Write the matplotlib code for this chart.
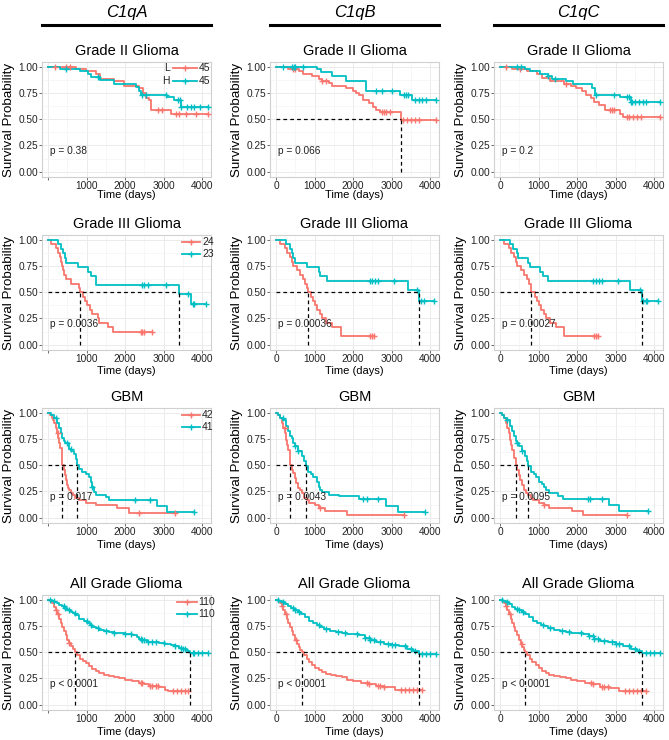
import numpy as np
import matplotlib
matplotlib.use("Agg")
import matplotlib.pyplot as plt
from matplotlib.lines import Line2D

plt.rcParams['font.family'] = ['Liberation Sans', 'DejaVu Sans']

RED = "#F8766D"
TEAL = "#00BFC4"

genes = ["C1qA", "C1qB", "C1qC"]
groups = ["Grade II Glioma", "Grade III Glioma", "GBM", "All Grade Glioma"]
group_n = [("45", "45"), ("24", "23"), ("42", "41"), ("110", "110")]
p_text = [
    ["p = 0.38", "p = 0.066", "p = 0.2"],
    ["p = 0.0036", "p = 0.00036", "p = 0.00027"],
    ["p = 0.017", "p = 0.0043", "p = 0.0095"],
    ["p < 0.0001", "p < 0.0001", "p < 0.0001"],
]

# ---- Grade II ----
g2a_low_t = [730, 990, 1250, 1340, 1720, 1980, 2370, 2460, 2540, 2630, 2670, 3190]
g2a_low_s = [0.977, 0.955, 0.932, 0.886, 0.864, 0.818, 0.795, 0.75, 0.705, 0.682, 0.59, 0.55]
g2a_low_c = [170, 470, 560, 2850, 2950, 3320, 3400, 3580, 3840, 4140]
g2a_high_t = [300, 820, 1030, 1120, 1340, 1720, 2280, 2370, 2410, 3100, 3280, 3450]
g2a_high_s = [0.977, 0.955, 0.932, 0.9, 0.875, 0.84, 0.81, 0.77, 0.735, 0.71, 0.685, 0.62]
g2a_high_c = [470, 1300, 2450, 2550, 3050, 3380, 3420, 3460, 3600, 3700, 3800, 3950, 4150]

g2b_low_t = [320, 590, 700, 940, 1110, 1200, 1370, 1460, 1810, 1990, 2070, 2160, 2250, 2420, 2510, 2600, 2690, 3250]
g2b_low_s = [0.977, 0.955, 0.932, 0.909, 0.886, 0.864, 0.841, 0.818, 0.795, 0.773, 0.75, 0.727, 0.682, 0.659, 0.614, 0.591, 0.568, 0.49]
g2b_low_c = [450, 500, 1200, 1300, 2750, 2800, 2850, 2950, 3300, 3400, 3500, 3600, 3700, 4150]
g2b_high_t = [1050, 1160, 1460, 1810, 2340, 3220, 3520]
g2b_high_s = [0.977, 0.953, 0.91, 0.865, 0.77, 0.735, 0.68]
g2b_high_c = [180, 420, 460, 500, 700, 2600, 2750, 3000, 3320, 3380, 3420, 3600, 3700, 3800, 3900, 4150]

g2c_low_t = [320, 700, 950, 1080, 1290, 1670, 1840, 1970, 2130, 2220, 2350, 2430, 2560, 2730, 3110, 3200]
g2c_low_s = [0.977, 0.955, 0.932, 0.89, 0.864, 0.84, 0.818, 0.795, 0.77, 0.73, 0.70, 0.66, 0.64, 0.59, 0.55, 0.52]
g2c_low_c = [160, 520, 1700, 2850, 2900, 2950, 3300, 3350, 3450, 3550, 3650, 4150]
g2c_high_t = [650, 780, 1030, 1250, 1340, 1710, 1880, 2390, 2470, 3110, 3400]
g2c_high_s = [0.977, 0.955, 0.932, 0.91, 0.886, 0.864, 0.84, 0.795, 0.735, 0.71, 0.66]
g2c_high_c = [440, 530, 1250, 1420, 2500, 2950, 3300, 3350, 3400, 3420, 3500, 3600, 3700, 3800, 4150]

# ---- Grade III ----
g3a_low_t = [70, 215, 260, 300, 330, 360, 390, 420, 470, 600, 790, 830, 900, 960, 1020, 1080, 1150, 1290, 1330, 1550, 1680]
g3a_low_s = [0.958, 0.917, 0.875, 0.833, 0.792, 0.75, 0.708, 0.667, 0.625, 0.583, 0.542, 0.5, 0.458, 0.417, 0.375, 0.333, 0.292, 0.25, 0.208, 0.167, 0.125]
g3a_low_c = [2400, 2450, 2500, 2700]
g3a_high_t = [260, 345, 390, 430, 460, 780, 1030, 1120, 1250, 3400, 3700]
g3a_high_s = [0.957, 0.913, 0.87, 0.826, 0.783, 0.739, 0.696, 0.652, 0.565, 0.485, 0.388]
g3a_high_c = [2450, 2500, 2600, 3050, 3620, 3750, 3800, 4100]

g3b_low_t = [90, 220, 290, 350, 400, 440, 530, 620, 700, 760, 800, 820, 900, 960, 1000, 1050, 1130, 1200, 1300, 1450, 1690]
g3b_low_s = [0.958, 0.917, 0.875, 0.833, 0.792, 0.75, 0.708, 0.667, 0.625, 0.583, 0.542, 0.5, 0.458, 0.417, 0.375, 0.333, 0.292, 0.25, 0.208, 0.167, 0.083]
g3b_low_c = [2450, 2500, 2550]
g3b_high_t = [260, 350, 400, 440, 480, 790, 1100, 1150, 1320, 3420, 3720]
g3b_high_s = [0.957, 0.913, 0.87, 0.826, 0.783, 0.739, 0.696, 0.652, 0.609, 0.52, 0.42]
g3b_high_c = [2450, 2500, 2580, 2650, 3050, 3650, 3760, 3850, 4100]

g3c_low_t = [90, 220, 290, 350, 400, 440, 530, 620, 700, 760, 790, 800, 900, 960, 1000, 1050, 1130, 1200, 1300, 1450, 1670]
g3c_low_s = [0.958, 0.917, 0.875, 0.833, 0.792, 0.75, 0.708, 0.667, 0.625, 0.583, 0.542, 0.5, 0.458, 0.417, 0.375, 0.333, 0.292, 0.25, 0.208, 0.167, 0.083]
g3c_low_c = [2450, 2500, 2540]
g3c_high_t = [260, 340, 430, 460, 730, 770, 1030, 1120, 1240, 3380, 3680]
g3c_high_s = [0.957, 0.913, 0.87, 0.826, 0.783, 0.739, 0.696, 0.652, 0.607, 0.52, 0.42]
g3c_high_c = [2420, 2480, 2560, 2650, 3050, 3640, 3720, 3780, 3820, 4100]

# ---- GBM ----
gbma_low_t = [60, 100, 130, 160, 200, 230, 260, 290, 320, 350, 370, 400, 430, 460, 490, 520, 550, 600, 650, 700, 800, 980, 1240, 1800, 2100]
gbma_low_s = [0.976, 0.952, 0.929, 0.905, 0.857, 0.81, 0.762, 0.714, 0.667, 0.595, 0.5, 0.452, 0.405, 0.357, 0.31, 0.286, 0.262, 0.238, 0.214, 0.19, 0.167, 0.143, 0.119, 0.095, 0.048]
gbma_low_c = [250, 2350, 3300]
gbma_high_t = [70, 155, 240, 285, 330, 370, 410, 450, 530, 600, 670, 720, 760, 800, 890, 980, 1060, 1110, 1150, 1190, 1240, 1490, 1580, 2830, 3090]
gbma_high_s = [0.976, 0.951, 0.902, 0.853, 0.805, 0.756, 0.732, 0.707, 0.658, 0.634, 0.61, 0.561, 0.5, 0.463, 0.439, 0.415, 0.39, 0.341, 0.293, 0.244, 0.22, 0.195, 0.165, 0.11, 0.055]
gbma_high_c = [200, 500, 590, 1150, 2250, 2650, 3800]

gbmb_low_t = [60, 100, 150, 180, 230, 260, 290, 320, 350, 370, 410, 440, 480, 520, 570, 620, 660, 720, 790, 860, 1010, 1100, 1270, 1850]
gbmb_low_s = [0.976, 0.952, 0.905, 0.857, 0.81, 0.738, 0.69, 0.643, 0.571, 0.5, 0.452, 0.429, 0.381, 0.333, 0.286, 0.262, 0.238, 0.19, 0.167, 0.143, 0.119, 0.095, 0.06, 0.03]
gbmb_low_c = [220, 1150, 3320]
gbmb_high_t = [40, 100, 180, 250, 300, 350, 400, 440, 480, 560, 660, 720, 775, 835, 900, 960, 1050, 1100, 1150, 1190, 1360, 1630, 2150, 2860, 3160]
gbmb_high_s = [0.976, 0.951, 0.927, 0.878, 0.829, 0.78, 0.756, 0.707, 0.683, 0.634, 0.585, 0.537, 0.49, 0.44, 0.415, 0.39, 0.341, 0.293, 0.268, 0.244, 0.22, 0.205, 0.18, 0.11, 0.055]
gbmb_high_c = [170, 500, 560, 2250, 2350, 2650, 3860]

gbmc_low_t = [60, 100, 150, 180, 230, 260, 290, 320, 350, 410, 440, 480, 520, 570, 620, 660, 720, 790, 860, 1000, 1150, 1280, 1860, 2140]
gbmc_low_s = [0.976, 0.952, 0.905, 0.857, 0.81, 0.738, 0.69, 0.643, 0.571, 0.5, 0.452, 0.405, 0.357, 0.31, 0.262, 0.238, 0.214, 0.19, 0.167, 0.143, 0.119, 0.095, 0.06, 0.03]
gbmc_low_c = [1150, 3290]
gbmc_high_t = [40, 100, 180, 250, 300, 350, 400, 440, 480, 560, 640, 690, 735, 800, 870, 930, 1000, 1080, 1150, 1200, 1280, 1500, 1620, 2820, 3080]
gbmc_high_s = [0.976, 0.951, 0.927, 0.878, 0.829, 0.78, 0.732, 0.707, 0.683, 0.634, 0.585, 0.537, 0.49, 0.44, 0.415, 0.39, 0.341, 0.317, 0.293, 0.268, 0.24, 0.21, 0.18, 0.12, 0.06]
gbmc_high_c = [190, 450, 560, 2290, 2330, 2650, 3830]

# ---- All grades ----
alla_low_t = [60, 110, 160, 200, 240, 280, 330, 370, 410, 460, 500, 540, 590, 640, 700, 760, 840, 900, 970, 1060,
              1140, 1230, 1320, 1450, 1580, 1720, 1830, 2000, 2180, 2350, 2500, 2610, 2870, 3040, 3120]
alla_low_s = [0.99, 0.97, 0.93, 0.9, 0.86, 0.82, 0.78, 0.74, 0.7, 0.66, 0.62, 0.59, 0.56, 0.53, 0.5, 0.47, 0.44, 0.42, 0.4, 0.37,
              0.34, 0.32, 0.3, 0.285, 0.27, 0.26, 0.25, 0.24, 0.225, 0.21, 0.2, 0.18, 0.17, 0.14, 0.13]
alla_low_c = [200, 260, 550, 2400, 2450, 2650, 2700, 2800, 2850, 3250, 3350, 3450, 3550, 3640]
alla_high_t = [90, 160, 220, 290, 350, 420, 500, 590, 650, 710, 800, 930, 1020, 1080, 1150, 1230, 1320, 1450, 1580, 1700,
               1830, 2000, 2180, 2300, 2350, 2450, 2560, 2700, 2870, 3040, 3200, 3300, 3400, 3470, 3600, 3680]
alla_high_s = [0.99, 0.98, 0.97, 0.95, 0.94, 0.92, 0.9, 0.88, 0.87, 0.85, 0.82, 0.8, 0.78, 0.76, 0.74, 0.73, 0.71, 0.7, 0.69, 0.685,
               0.68, 0.67, 0.66, 0.645, 0.63, 0.62, 0.6, 0.595, 0.59, 0.58, 0.57, 0.56, 0.545, 0.53, 0.51, 0.49]
alla_high_c = [60, 150, 400, 450, 550, 700, 1000, 1100, 1300, 1500, 1700, 2000, 2150, 2400, 2450, 2500, 2600, 2700, 2800,
               3000, 3300, 3450, 3500, 3550, 3750, 3800, 3900, 4000, 4150]

allb_low_t = [50, 100, 150, 190, 230, 270, 310, 350, 400, 450, 490, 540, 590, 630, 665, 720, 790, 860, 940, 1020,
              1100, 1200, 1300, 1420, 1550, 1700, 1850, 2000, 2200, 2400, 2600, 2800, 3100]
allb_low_s = [0.99, 0.97, 0.94, 0.9, 0.86, 0.82, 0.78, 0.74, 0.7, 0.66, 0.62, 0.58, 0.55, 0.52, 0.5, 0.47, 0.44, 0.41, 0.38, 0.35,
              0.33, 0.31, 0.29, 0.28, 0.27, 0.26, 0.24, 0.23, 0.21, 0.2, 0.18, 0.17, 0.14]
allb_low_c = [150, 250, 520, 2350, 2400, 2650, 2700, 2800, 3250, 3350, 3450, 3550, 3650, 3780]
allb_high_t = [80, 150, 230, 300, 380, 460, 560, 650, 750, 850, 950, 1050, 1150, 1250, 1400, 1550, 1700, 1850, 2000, 2150,
               2300, 2450, 2600, 2800, 3000, 3200, 3400, 3550, 3710]
allb_high_s = [0.99, 0.98, 0.96, 0.94, 0.92, 0.9, 0.88, 0.86, 0.84, 0.8, 0.78, 0.76, 0.74, 0.72, 0.7, 0.69, 0.68, 0.675, 0.67, 0.66,
               0.64, 0.62, 0.6, 0.58, 0.57, 0.56, 0.53, 0.51, 0.48]
allb_high_c = [50, 180, 450, 500, 600, 1100, 1300, 1600, 1800, 2100, 2300, 2400, 2450, 2550, 2700, 2900, 3000, 3100, 3350,
               3500, 3600, 3800, 3900, 4000, 4150]

allc_low_t = [50, 100, 150, 190, 230, 270, 310, 350, 390, 430, 480, 530, 580, 620, 650, 700, 770, 840, 920, 1000,
              1080, 1180, 1280, 1400, 1550, 1700, 1850, 2000, 2200, 2400, 2600, 2850, 3100]
allc_low_s = [0.99, 0.97, 0.94, 0.9, 0.86, 0.82, 0.78, 0.74, 0.7, 0.66, 0.62, 0.58, 0.55, 0.52, 0.5, 0.47, 0.44, 0.41, 0.38, 0.35,
              0.32, 0.3, 0.28, 0.27, 0.26, 0.25, 0.24, 0.23, 0.21, 0.2, 0.17, 0.16, 0.13]
allc_low_c = [150, 250, 560, 2350, 2400, 2650, 2700, 2800, 3250, 3350, 3450, 3550, 3650, 3790]
allc_high_t = [80, 150, 230, 300, 380, 460, 560, 650, 750, 850, 950, 1050, 1150, 1250, 1400, 1550, 1700, 1850, 2000, 2150,
               2300, 2450, 2600, 2800, 3000, 3200, 3400, 3550, 3680]
allc_high_s = [0.99, 0.98, 0.96, 0.93, 0.91, 0.9, 0.88, 0.86, 0.84, 0.8, 0.78, 0.76, 0.75, 0.73, 0.71, 0.7, 0.69, 0.685, 0.68, 0.67,
               0.65, 0.63, 0.61, 0.6, 0.58, 0.56, 0.53, 0.51, 0.49]
allc_high_c = [60, 180, 450, 500, 600, 1100, 1300, 1600, 1800, 2100, 2300, 2400, 2450, 2550, 2700, 2900, 3000, 3100, 3350,
               3500, 3600, 3800, 3900, 4000, 4150]

panels = [
    [((g2a_low_t, g2a_low_s, g2a_low_c), (g2a_high_t, g2a_high_s, g2a_high_c)),
     ((g2b_low_t, g2b_low_s, g2b_low_c), (g2b_high_t, g2b_high_s, g2b_high_c)),
     ((g2c_low_t, g2c_low_s, g2c_low_c), (g2c_high_t, g2c_high_s, g2c_high_c))],
    [((g3a_low_t, g3a_low_s, g3a_low_c), (g3a_high_t, g3a_high_s, g3a_high_c)),
     ((g3b_low_t, g3b_low_s, g3b_low_c), (g3b_high_t, g3b_high_s, g3b_high_c)),
     ((g3c_low_t, g3c_low_s, g3c_low_c), (g3c_high_t, g3c_high_s, g3c_high_c))],
    [((gbma_low_t, gbma_low_s, gbma_low_c), (gbma_high_t, gbma_high_s, gbma_high_c)),
     ((gbmb_low_t, gbmb_low_s, gbmb_low_c), (gbmb_high_t, gbmb_high_s, gbmb_high_c)),
     ((gbmc_low_t, gbmc_low_s, gbmc_low_c), (gbmc_high_t, gbmc_high_s, gbmc_high_c))],
    [((alla_low_t, alla_low_s, alla_low_c), (alla_high_t, alla_high_s, alla_high_c)),
     ((allb_low_t, allb_low_s, allb_low_c), (allb_high_t, allb_high_s, allb_high_c)),
     ((allc_low_t, allc_low_s, allc_low_c), (allc_high_t, allc_high_s, allc_high_c))],
]

W, H = 669, 740
fig = plt.figure(figsize=(W / 100, H / 100), dpi=100)

col_left = [42, 270, 494]
col_w = 169
row_top = [62, 235, 408, 595]
row_h = 115
xlab_y = [-0.115, -0.14, -0.145, -0.145]


def km_curve(ax, t, s, c, color):
    t = np.asarray(t, float)
    s = np.asarray(s, float)
    c = np.asarray(c, float)
    end = max(t.max(), c.max() if len(c) else 0)
    xs = np.concatenate([[0], t, [end]])
    ys = np.concatenate([[1.0], s, [s[-1]]])
    ax.step(xs, ys, where='post', color=color, lw=1.3, zorder=3)
    idx = np.searchsorted(t, c, side='right')
    cs = np.concatenate([[1.0], s])[idx]
    ax.plot(c, cs, '+', color=color, ms=5, mew=1.0, zorder=4)
    below = np.where(s <= 0.5)[0]
    return t[below[0]] if len(below) else None


def legend_key(ax, y, color, label, x0, x1, prefix=None):
    ax.plot([x0, x1], [y, y], transform=ax.transAxes, color=color, lw=1.3, clip_on=False)
    ax.plot([(x0 + x1) / 2], [y], '+', transform=ax.transAxes, color=color, ms=5, mew=1.0, clip_on=False)
    ax.text(x1 + 0.012, y, label, transform=ax.transAxes, ha='left', va='center', fontsize=7.5, color='#222222')
    if prefix:
        ax.text(x0 - 0.02, y, prefix, transform=ax.transAxes, ha='right', va='center', fontsize=7.5, color='#222222')


for r in range(4):
    for ci in range(3):
        ax = fig.add_axes([col_left[ci] / W, 1 - (row_top[r] + row_h) / H, col_w / W, row_h / H])
        low, high = panels[r][ci]
        m1 = km_curve(ax, *low, RED)
        m2 = km_curve(ax, *high, TEAL)
        meds = [m for m in (m1, m2) if m is not None]
        if meds:
            ax.plot([0, max(meds)], [0.5, 0.5], color='black', lw=0.9, ls=(0, (3, 2.5)), zorder=5)
            for m in meds:
                ax.plot([m, m], [0, 0.5], color='black', lw=0.9, ls=(0, (3, 2.5)), zorder=5)

        ax.set_xlim(-160, 4230)
        ax.set_ylim(-0.05, 1.045)
        ax.set_xticks([0, 1000, 2000, 3000, 4000])
        if ci == 0:
            ax.set_xticklabels(['', '1000', '2000', '3000', '4000'])
        ax.set_xticks([500, 1500, 2500, 3500], minor=True)
        ax.set_yticks([0, 0.25, 0.5, 0.75, 1.0])
        ax.set_yticklabels(['0.00', '0.25', '0.50', '0.75', '1.00'])
        ax.set_yticks([0.125, 0.375, 0.625, 0.875], minor=True)
        ax.grid(which='major', color='#EBEBEB', lw=0.7)
        ax.grid(which='minor', color='#F4F4F4', lw=0.5)
        ax.set_axisbelow(True)
        for sp in ax.spines.values():
            sp.set_color('#D0D0D0')
            sp.set_linewidth(0.8)
        ax.tick_params(which='major', length=2, width=0.6, color='#555555', labelsize=7.3, labelcolor='#222222', pad=0.8)
        ax.tick_params(which='minor', length=0)

        ax.set_title(groups[r], fontsize=10.5, pad=5)
        ax.set_ylabel('Survival Probability', fontsize=9.6)
        ax.yaxis.set_label_coords(-0.16, 0.5)
        ax.set_xlabel('Time (days)', fontsize=8)
        ax.xaxis.set_label_coords(0.5, xlab_y[r])

        ax.text(50, 0.2, p_text[r][ci], ha='left', va='center', fontsize=7.3,
                family=['Liberation Sans Narrow', 'Liberation Sans'], color='#222222', zorder=6)

        if ci == 0:
            n_low, n_high = group_n[r]
            if r == 0:
                legend_key(ax, 0.948, RED, n_low, 0.775, 0.915, prefix='L')
                legend_key(ax, 0.835, TEAL, n_high, 0.775, 0.915, prefix='H')
            else:
                x0 = 0.80 if r == 3 else 0.83
                x1 = 0.915 if r == 3 else 0.935
                legend_key(ax, 0.94, RED, n_low, x0, x1)
                legend_key(ax, 0.835, TEAL, n_high, x0, x1)

# column headers
for ci, g in enumerate(genes):
    x0 = col_left[ci]
    x1 = col_left[ci] + col_w
    fig.text((x0 + x1) / 2 / W, 1 - 13 / H, g, ha='center', va='center', fontsize=12, style='italic')
    fig.add_artist(Line2D([x0 / W, x1 / W], [1 - 24.5 / H, 1 - 24.5 / H], color='black', lw=2.2))

fig.savefig('out.png', dpi=100)
